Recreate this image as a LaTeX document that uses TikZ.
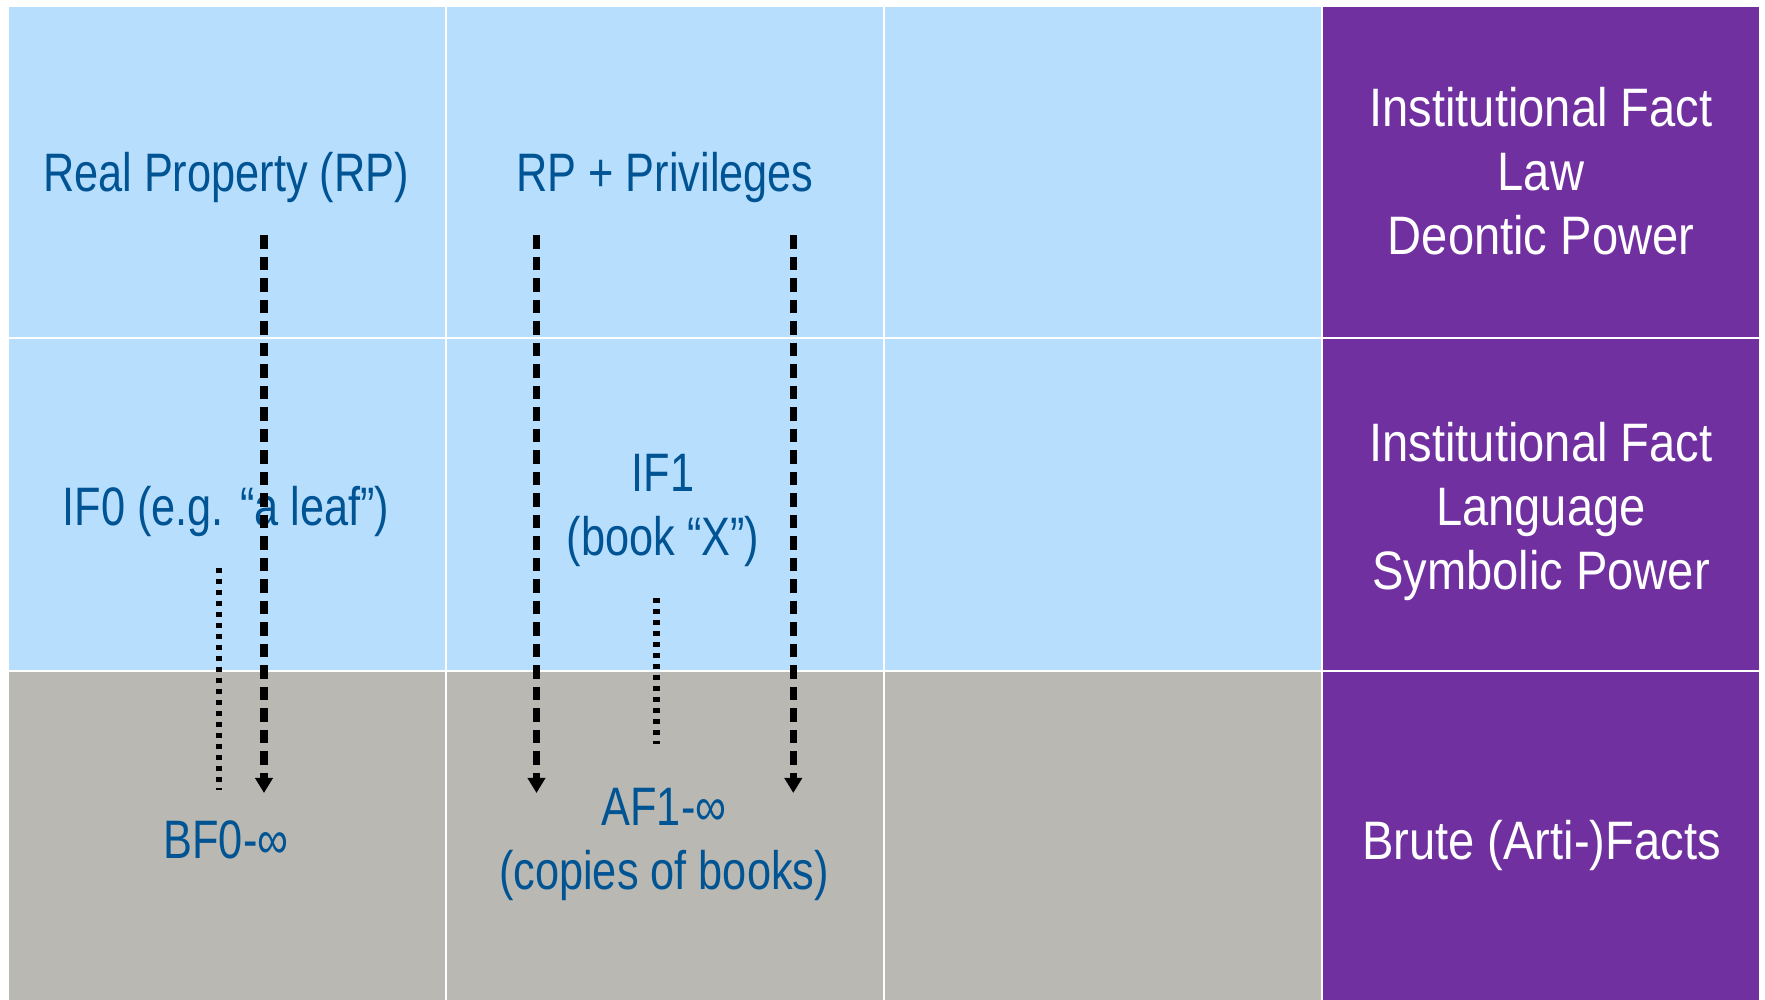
\documentclass[tikz,border=0pt]{standalone}
\usepackage{fontspec}
\usetikzlibrary{arrows.meta}
\newfontfamily\labelfont[FakeStretch=0.80]{Liberation Sans}
\newfontfamily\layerfont[FakeStretch=0.87]{Liberation Sans}
\definecolor{cellblue}{RGB}{184,222,254}
\definecolor{cellgray}{RGB}{185,184,178}
\definecolor{layerpurple}{RGB}{112,48,160}
\definecolor{textblue}{RGB}{0,84,147}

\begin{document}
\begin{tikzpicture}[x=0.01cm,y=-0.01cm,
  cell/.style={draw=white, line width=0.02cm},
  lbl/.style={inner sep=0pt, text=textblue, align=center,
    font=\labelfont\fontsize{15.4}{18.2}\selectfont},
  layer/.style={inner sep=0pt, text=white, align=center,
    font=\layerfont\fontsize{15.4}{18.2}\selectfont},
  realizes/.style={line width=0.07cm, dash pattern=on 0.135cm off 0.08cm,
    -{Triangle[width=0.17cm,length=0.15cm]}},
  counts/.style={line width=0.065cm, dash pattern=on 0.055cm off 0.055cm}]

\useasboundingbox (0,0) rectangle (1765,1000);
\fill[white] (0,0) rectangle (1765,1000);

% table cells: three columns of examples and one column of layer names
\foreach \xa/\xb in {8/445.5, 445.5/884, 884/1322} {
  \filldraw[cell, fill=cellblue] (\xa,5.5) rectangle (\xb,337.5);
  \filldraw[cell, fill=cellblue] (\xa,337.5) rectangle (\xb,671);
  \filldraw[cell, fill=cellgray] (\xa,671) rectangle (\xb,1012);
}
\filldraw[cell, fill=layerpurple] (1322,5.5) rectangle (1760,337.5);
\filldraw[cell, fill=layerpurple] (1322,337.5) rectangle (1760,671);
\filldraw[cell, fill=layerpurple] (1322,671) rectangle (1760,1012);

% example labels
\node[lbl, anchor=base] (rp)  at (226,192) {Real Property (RP)};
\node[lbl, anchor=base] (rpp) at (665,192) {RP + Privileges};
\node[lbl, anchor=base] (if0) at (226,525) {IF0 (e.g. “a leaf”)};
\node[lbl] (if1) at (663,510.7) {IF1\\(book “X”)};
\node[lbl, anchor=base] (bf0) at (226,858) {BF0-∞};
\node[lbl] (af1) at (664,844.7) {AF1-∞\\(copies of books)};

% layer names
\node[layer] (law)  at (1541,171.3) {Institutional Fact\\Law\\Deontic Power};
\node[layer] (lang) at (1541,511) {Institutional Fact\\Language\\Symbolic Power};
\node[layer, anchor=base] (brute) at (1541.5,859) {Brute (Arti-)Facts};

% connector end points
\coordinate (rpS)   at (264,235);
\coordinate (bfT)   at (264,793);
\coordinate (rppSl) at (536.5,235);
\coordinate (afTl)  at (536.5,793);
\coordinate (rppSr) at (793.3,235);
\coordinate (afTr)  at (793.3,793);
\coordinate (if0S)  at (219,567.7);
\coordinate (bfD)   at (219,790);
\coordinate (if1S)  at (656.7,597.7);
\coordinate (afD)   at (656.7,744);

% dotted links from institutional facts down to brute facts
\draw[counts] (if0S) -- (bfD);
\draw[counts] (if1S) -- (afD);

% dashed arrows from real property down to brute facts
\draw[realizes] (rpS) -- (bfT);
\draw[realizes] (rppSl) -- (afTl);
\draw[realizes] (rppSr) -- (afTr);
\end{tikzpicture}
\end{document}
